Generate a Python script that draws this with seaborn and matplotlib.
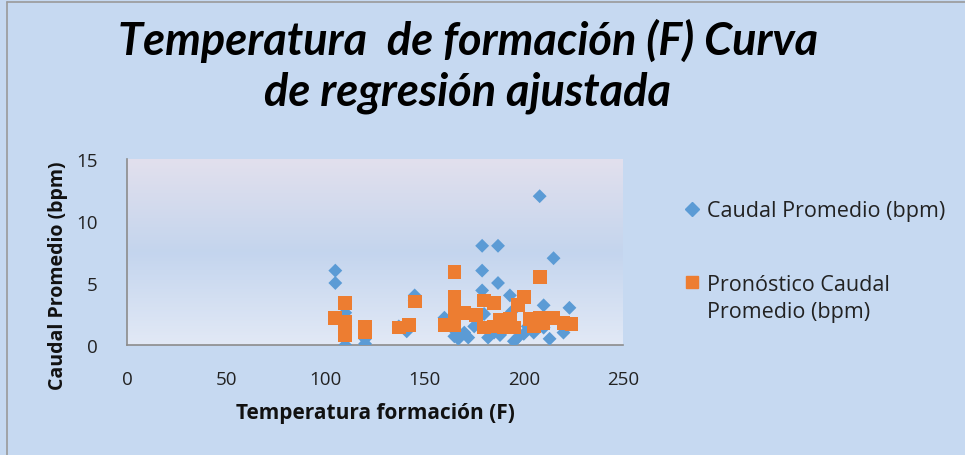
import numpy as np
import pandas as pd
import matplotlib
matplotlib.use("Agg")
import matplotlib.pyplot as plt
import seaborn as sns
from matplotlib.lines import Line2D

# ---- data ----
temp_obs = [105, 105, 110, 110, 110, 110, 120, 120, 120, 137, 141, 145, 145,
            160, 165, 165, 167, 170, 172, 175, 179, 179, 179, 180, 182, 185,
            187, 187, 188, 190, 193, 194, 195, 197, 200, 202, 205, 208, 210,
            210, 213, 215, 220, 223]
caudal_obs = [6.0, 5.0, 2.6, 1.5, 1.0, 0.0, 0.1, 0.5, 1.0, 1.5, 1.1, 4.0, 3.6,
              2.2, 0.7, 1.2, 0.5, 1.0, 0.6, 1.5, 8.0, 6.0, 4.4, 2.5, 0.6, 1.0,
              8.0, 5.0, 0.8, 1.2, 4.0, 2.7, 0.3, 0.6, 0.9, 1.5, 1.0, 12.0, 3.2,
              1.4, 0.5, 7.0, 1.0, 3.0]

temp_pred = [105, 110, 110, 110, 110, 120, 120, 137, 142, 145, 160, 165, 165,
             165, 165, 165, 170, 176, 180, 180, 185, 185, 188, 190, 193, 195,
             197, 200, 203, 205, 208, 208, 210, 215, 220, 224]
caudal_pred = [2.2, 3.4, 1.9, 1.3, 0.8, 1.5, 1.0, 1.4, 1.6, 3.5, 1.6, 5.9, 3.85,
               3.0, 2.3, 1.6, 2.6, 2.4, 3.6, 1.4, 3.4, 1.5, 2.0, 1.4, 2.1, 1.4,
               3.2, 3.85, 2.1, 1.5, 5.5, 2.2, 1.8, 2.2, 1.8, 1.7]

series_names = ["Caudal Promedio (bpm)", "Pronóstico Caudal\nPromedio (bpm)"]
title = "Temperatura  de formación (F) Curva\nde regresión ajustada"
xlabel = "Temperatura formación (F)"
ylabel = "Caudal Promedio (bpm)"
xticks = [0, 50, 100, 150, 200, 250]
yticks = [0, 5, 10, 15]

df = pd.concat([
    pd.DataFrame({"T": temp_obs, "Q": caudal_obs, "serie": series_names[0]}),
    pd.DataFrame({"T": temp_pred, "Q": caudal_pred, "serie": series_names[1]}),
], ignore_index=True)

BLUE = "#5b9bd5"
ORANGE = "#ed7d31"
BG = "#c6d9f1"

sns.set_theme(style="white")
plt.rcParams["font.family"] = ["Open Sans", "DejaVu Sans"]

fig = plt.figure(figsize=(9.65, 4.56), dpi=100)
fig.patch.set_facecolor(BG)

# outer border (left & top)
fig.add_artist(Line2D([7/965, 7/965], [0, 1 - 3/456], transform=fig.transFigure,
                      color="#9a9a9a", lw=1.2))
fig.add_artist(Line2D([7/965, 1], [1 - 3/456, 1 - 3/456], transform=fig.transFigure,
                      color="#9a9a9a", lw=1.2))

ax = fig.add_axes([127/965, 110/456, 496/965, 186/456])

# gradient plot-area background
top = np.array([226, 224, 237]) / 255
mid = np.array([196, 213, 238]) / 255
bot = np.array([226, 233, 246]) / 255
n = 200
t = np.linspace(0, 1, n)[:, None]
grad = np.where(t < 0.5, top + (mid - top) * (t / 0.5), mid + (bot - mid) * ((t - 0.5) / 0.5))
ax.imshow(grad[:, None, :], extent=[0, 1, 0, 1], transform=ax.transAxes,
          aspect="auto", zorder=0, interpolation="bilinear")

sns.scatterplot(data=df, x="T", y="Q", hue="serie", style="serie", size="serie",
                palette={series_names[0]: BLUE, series_names[1]: ORANGE},
                markers={series_names[0]: "D", series_names[1]: "s"},
                sizes={series_names[0]: 50, series_names[1]: 97},
                linewidth=0, ax=ax, legend=False, zorder=3)

ax.set_xlim(0, 250)
ax.set_ylim(0, 15)
ax.set_xticks(xticks)
ax.set_yticks(yticks)
ax.tick_params(axis="both", labelsize=13.5, length=7, width=1.2,
               direction="out", colors="#8c8c8c", labelcolor="#222222")
ax.tick_params(axis="x", pad=11)
ax.tick_params(axis="y", pad=14)
for s in ["top", "right"]:
    ax.spines[s].set_visible(False)
for s in ["left", "bottom"]:
    ax.spines[s].set_color("#8c8c8c")
    ax.spines[s].set_linewidth(1.2)
ax.set_facecolor("none")

ax.set_xlabel(xlabel, fontsize=15, fontweight="bold", color="#111111")
ax.xaxis.set_label_coords(0.5, -(414 - 346) / 186)
ax.set_ylabel(ylabel, fontsize=14, fontweight="bold", color="#111111")
ax.yaxis.set_label_coords(-(127 - 58) / 496, (346 - 276) / 186)
ax.xaxis.label.set_va("center")
ax.yaxis.label.set_va("center")

fig.text(468/965, 1 - 66/456, title, ha="center", va="center", fontsize=32.5,
         fontweight="bold", fontstyle="italic", linespacing=1.25, color="#000000",
         family=["Lato", "DejaVu Sans"])

# legend (two blocks so the orange marker sits on the first line of its label)
lab2_lines = series_names[1].split("\n")
h_blue = Line2D([], [], marker="D", color=BLUE, linestyle="none", markersize=7)
h_orng = Line2D([], [], marker="s", color=ORANGE, linestyle="none", markersize=8)
h_none = Line2D([], [], linestyle="none", marker=None)
common = dict(frameon=False, fontsize=15.5, handletextpad=0.3, handlelength=0.8,
              borderpad=0, borderaxespad=0, loc="center left", labelcolor="#222222")
leg1 = fig.legend([h_blue], [series_names[0]],
                  bbox_to_anchor=(683/965, 1 - 212/456), **common)
leg2 = fig.legend([h_orng, h_none], lab2_lines, labelspacing=0.3,
                  bbox_to_anchor=(683/965, 1 - 299/456), **common)

fig.savefig("out.png", dpi=100, facecolor=fig.get_facecolor())
